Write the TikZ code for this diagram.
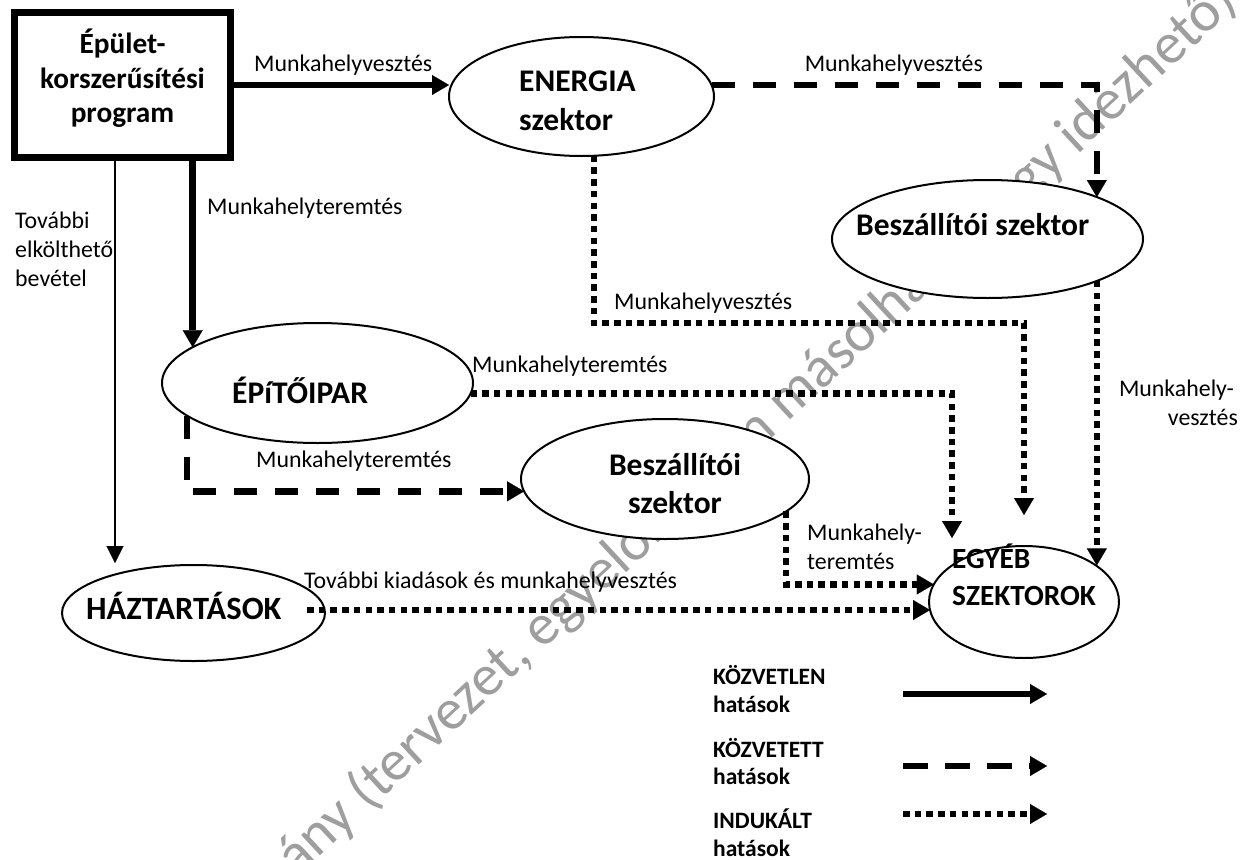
\documentclass[tikz,border=0pt]{standalone}
\usepackage{fontspec}
\setmainfont{Carlito}
\usetikzlibrary{arrows.meta,shapes.geometric}
\tikzset{
  lbl/.style={inner sep=0pt, font=\fontsize{23.85}{28}\selectfont},
  blbl/.style={inner sep=0pt, font=\fontsize{31.5}{36}\selectfont\bfseries},
  boxlbl/.style={inner sep=0pt, font=\fontsize{29.3}{34}\selectfont\bfseries},
  leglbl/.style={inner sep=0pt, font=\fontsize{23.5}{28}\selectfont\bfseries},
  ell/.style={ellipse, draw, fill=white, line width=2pt, inner sep=0pt, outer sep=0pt},
  tipA/.style={-{Triangle[length=17pt,width=20pt,line width=0.1pt]}},
  solidc/.style={line width=6.5pt, tipA},
  dashc/.style={line width=6.5pt, dash pattern=on 23pt off 18pt, tipA},
  dotc/.style={line width=6.5pt, dash pattern=on 6.5pt off 5.2pt, tipA},
  thinc/.style={line width=2.5pt, -{Triangle[length=17pt,width=17pt,line width=0.1pt]}},
  wm/.style={inner sep=0pt, text=black!38, font=\fontsize{58}{60}\selectfont},
}
\begin{document}
\begin{tikzpicture}[x=1pt,y=-1pt]
\useasboundingbox (0,0) rectangle (1249,859);
\fill[white] (0,0) rectangle (1249,859);
% watermark
\begin{scope}
\clip (0,0) rectangle (1249,859);
\node[wm, rotate=42.8, anchor=base west] (wm) at (171,994) {Tanulmány (tervezet, egyelőre nem másolható, vagy idézhető)};
\end{scope}

% nodes
\node[draw, fill=white, line width=7pt, minimum width=216pt, minimum height=145pt, inner sep=0pt, outer sep=0pt] (prog) at (122.5,85) {};
\node[boxlbl, anchor=base] (progT1) at (122.5,53) {Épület-};
\node[boxlbl, anchor=base] (progT2) at (122.5,88) {korszerűsítési};
\node[boxlbl, anchor=base] (progT3) at (122.5,122) {program};

\node[ell, minimum width=265pt, minimum height=119pt] (energia) at (581.5,96.5) {};
\node[blbl, anchor=base west] (energiaT1) at (519,92) {ENERGIA};
\node[blbl, anchor=base west] (energiaT2) at (519,130) {szektor};

\node[ell, minimum width=311pt, minimum height=118pt] (besz1) at (987.5,239) {};
\node[blbl, anchor=base west] (besz1T) at (856,235) {Beszállítói szektor};

\node[ell, minimum width=311pt, minimum height=120pt] (epito) at (317.5,383) {};
\node[blbl, anchor=base west] (epitoT) at (232,403) {ÉPíTŐIPAR};

\node[ell, minimum width=288pt, minimum height=120pt] (besz2) at (665,479) {};
\node[blbl, anchor=base] (besz2T1) at (675,475) {Beszállítói};
\node[blbl, anchor=base] (besz2T2) at (675,513) {szektor};

\node[ell, minimum width=263pt, minimum height=96pt] (haztart) at (193.5,613) {};
\node[blbl, anchor=base west] (haztartT) at (86,619) {\fontsize{32.5}{36}\selectfont HÁZTARTÁSOK};

\node[ell, minimum width=190pt, minimum height=112pt] (egyeb) at (1024,602) {};
\node[boxlbl, anchor=base west] (egyebT1) at (952,568) {EGYÉB};
\node[boxlbl, anchor=base west] (egyebT2) at (952,605) {SZEKTOROK};

% labels
\node[lbl, anchor=base west] (l1) at (254,71) {Munkahelyvesztés};
\node[lbl, anchor=base west] (l2) at (207,214) {Munkahelyteremtés};
\node[lbl, anchor=base west] (l3a) at (15,228) {További};
\node[lbl, anchor=base west] (l3b) at (15,257) {elkölthető};
\node[lbl, anchor=base west] (l3c) at (15,286) {bevétel};
\node[lbl, anchor=base east] (l4) at (983,71) {Munkahelyvesztés};
\node[lbl, anchor=base west] (l5) at (614,309) {Munkahelyvesztés};
\node[lbl, anchor=base west] (l6) at (472,372) {Munkahelyteremtés};
\node[lbl, anchor=base west] (l7) at (256,467) {Munkahelyteremtés};
\node[lbl, anchor=base west] (l8a) at (807,540) {Munkahely-};
\node[lbl, anchor=base west] (l8b) at (807,569) {teremtés};
\node[lbl, anchor=base west] (l9) at (304,588) {További kiadások és munkahelyvesztés};
\node[lbl, anchor=base east] (l10a) at (1234,396) {Munkahely-};
\node[lbl, anchor=base east] (l10b) at (1238,425) {vesztés};

% coordinates for free ends
\coordinate (hzIn) at (115,563);
\coordinate (egIn1) at (952,538);
\coordinate (egIn2) at (1024,515);
\coordinate (k2) at (1024,323);
\coordinate (hzOut) at (307,610);

% connectors
\draw[solidc] (prog.east) -- (prog.east -| energia.west);
\draw[solidc] (prog.south -| epito.164) -- (epito.164);
\draw[thinc] (prog.south -| hzIn) -- (hzIn);
\draw[dashc] (energia.5) -| (besz1.21);
\draw[dotc] (energia.-78) |- (k2) -- (egIn2);
\draw[dotc] (epito.-4.5) -| (egIn1);
\draw[dotc] (besz1.-21.3) -- (besz1.-21.3 |- egyeb.27);
\draw[dashc] (epito.194) |- (besz2.185);
\draw[dotc] (besz2.-15.5) |- (egyeb.169);
\draw[dotc] (hzOut) -- (hzOut -| egyeb.185);

% legend
\node[leglbl, anchor=base west] (lgT1a) at (713,684) {KÖZVETLEN};
\node[leglbl, anchor=base west] (lgT1b) at (713,712) {hatások};
\node[leglbl, anchor=base west] (lgT2a) at (713,757) {KÖZVETETT};
\node[leglbl, anchor=base west] (lgT2b) at (713,784) {hatások};
\node[leglbl, anchor=base west] (lgT3a) at (713,828) {INDUKÁLT};
\node[leglbl, anchor=base west] (lgT3b) at (713,856) {hatások};
\coordinate (lg1s) at (903,694);
\coordinate (lg1e) at (1047,694);
\coordinate (lg2s) at (903,766);
\coordinate (lg2e) at (1047,766);
\coordinate (lg3s) at (903,814);
\coordinate (lg3e) at (1047,814);
\draw[solidc] (lg1s) -- (lg1e);
\draw[line width=6.5pt, dash pattern=on 25pt off 17pt, tipA] (lg2s) -- (lg2e);
\draw[dotc] (lg3s) -- (lg3e);
\end{tikzpicture}
\end{document}
